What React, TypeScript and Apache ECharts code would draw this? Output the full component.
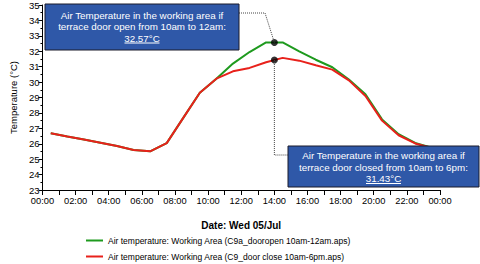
import React, { useEffect, useRef } from "react";
import * as echarts from "echarts";

const hours = [0.5, 1.5, 2.5, 3.5, 4.5, 5.5, 6.5, 7.5, 8.5, 9.5, 10.5, 11.5, 12.5, 13.5, 14.5, 15.5, 16.5, 17.5, 18.5, 19.5, 20.5, 21.5, 22.5, 23.5];
const doorOpen = [26.68, 26.47, 26.27, 26.07, 25.85, 25.6, 25.51, 26.04, 27.68, 29.31, 30.22, 31.2, 31.95, 32.57, 32.57, 31.99, 31.45, 30.96, 30.17, 29.21, 27.58, 26.62, 26.05, 25.75];
const doorClosed = [26.68, 26.47, 26.27, 26.07, 25.85, 25.6, 25.51, 26.04, 27.68, 29.31, 30.22, 30.7, 30.92, 31.29, 31.57, 31.39, 31.09, 30.81, 30.11, 29.1, 27.5, 26.55, 26.02, 25.72];
const seriesNames = [
  "Air temperature: Working Area (C9a_dooropen 10am-12am.aps)",
  "Air temperature: Working Area (C9_door close 10am-6pm.aps)",
];
const markerTime = 14;
const markerOpen = 32.57;
const markerClosed = 31.43;
const box1Lines = ["Air Temperature in the working area if", "terrace door open from 10am to 12am:", "32.57°C"];
const box2Lines = ["Air Temperature in the working area if", "terrace door closed from 10am to 6pm:", "31.43°C"];

const FONT = "Liberation Sans, Arial, sans-serif";
const GREEN = "#1e9a1e";
const RED = "#e8211b";
const BOX = "#2f58a8";

export default function App() {
  const ref = useRef<HTMLDivElement>(null);
  useEffect(() => {
    if (!ref.current) return;
    document.body.style.margin = "0";
    const chart = echarts.init(ref.current, null, { renderer: "svg" });
    chart.setOption({
      animation: false,
      textStyle: { fontFamily: FONT },
      grid: { left: 30, right: 40, top: 3, bottom: 74, containLabel: false },
      xAxis: {
        type: "value",
        min: 0,
        max: 24,
        interval: 2,
        name: "Date: Wed 05/Jul",
        nameLocation: "middle",
        nameGap: 30,
        nameTextStyle: { fontFamily: FONT, fontSize: 10, fontWeight: "bold", color: "#000" },
        axisLine: { lineStyle: { color: "#000", width: 1 } },
        axisTick: { length: 5, lineStyle: { color: "#000" } },
        minorTick: { show: true, splitNumber: 2, length: 5, lineStyle: { color: "#000" } },
        splitLine: { show: false },
        axisLabel: {
          color: "#000",
          fontSize: 9.3,
          fontFamily: FONT,
          margin: 6,
          formatter: (v: number) => {
            const h = v % 24;
            return (h < 10 ? "0" : "") + h + ":00";
          },
        },
      },
      yAxis: {
        type: "value",
        min: 23,
        max: 35,
        interval: 1,
        name: "Temperature (°C)",
        nameLocation: "middle",
        nameGap: 19,
        nameTextStyle: { fontFamily: FONT, fontSize: 9.5, color: "#000" },
        axisLine: { show: true, lineStyle: { color: "#000", width: 1 } },
        axisTick: { show: true, length: 4, lineStyle: { color: "#000" } },
        minorTick: { show: true, splitNumber: 2, length: 2, lineStyle: { color: "#000" } },
        splitLine: { show: false },
        axisLabel: { color: "#000", fontSize: 9.5, fontFamily: FONT, margin: 3 },
      },
      legend: {
        orient: "vertical",
        left: 86,
        top: 236,
        height: 28,
        padding: 0,
        itemGap: 7,
        itemWidth: 17,
        itemHeight: 2,
        icon: "rect",
        textStyle: { fontFamily: FONT, fontSize: 8.5, color: "#000" },
        data: seriesNames,
      },
      series: [
        {
          name: seriesNames[0],
          type: "line",
          data: hours.map((h, i) => [h, doorOpen[i]]),
          showSymbol: false,
          symbol: "none",
          lineStyle: { color: GREEN, width: 2 },
          itemStyle: { color: GREEN },
          z: 2,
        },
        {
          name: seriesNames[1],
          type: "line",
          data: hours.map((h, i) => [h, doorClosed[i]]),
          showSymbol: false,
          symbol: "none",
          lineStyle: { color: RED, width: 2 },
          itemStyle: { color: RED },
          z: 3,
        },
        {
          type: "scatter",
          data: [
            [markerTime, markerOpen],
            [markerTime, markerClosed],
          ],
          symbolSize: 7,
          itemStyle: { color: "#000" },
          z: 10,
          silent: true,
        },
      ],
    });

    const pOpen = chart.convertToPixel({ gridIndex: 0 }, [markerTime, markerOpen]) as number[];
    const pClosed = chart.convertToPixel({ gridIndex: 0 }, [markerTime, markerClosed]) as number[];

    const dotted = { stroke: "#444", lineWidth: 1, lineDash: [1, 1], fill: "none" };
    const box = (x: number, y: number, w: number, h: number, lines: string[], lineYs: number[], ulW: number) => {
      const cx = x + w / 2;
      const els: any[] = [
        { type: "rect", shape: { x, y, width: w, height: h }, style: { fill: BOX, stroke: "#1a1a2a", lineWidth: 1 }, z: 20 },
      ];
      lines.forEach((t, i) => {
        els.push({
          type: "text",
          x: cx,
          y: lineYs[i],
          style: { text: t, fill: "#fff", font: `9.8px ${FONT}`, align: "center", verticalAlign: "middle" },
          z: 21,
        });
      });
      const uy = lineYs[2] + 5;
      els.push({ type: "line", shape: { x1: cx - ulW / 2, y1: uy, x2: cx + ulW / 2, y2: uy }, style: { stroke: "#fff", lineWidth: 1 }, z: 21 });
      return els;
    };

    chart.setOption({
      graphic: [
        {
          type: "polyline",
          shape: { points: [[239, 13], [265, 13], [pOpen[0], pOpen[1]]] },
          style: dotted,
          z: 15,
        },
        {
          type: "polyline",
          shape: { points: [[pClosed[0], pClosed[1]], [pClosed[0], 155], [288, 155]] },
          style: dotted,
          z: 15,
        },
        ...box(45, 4, 194, 46, box1Lines, [15, 26.5, 38], 35),
        ...box(288, 146, 191, 41, box2Lines, [155.5, 167, 178.5], 35),
      ],
    });

    return () => chart.dispose();
  }, []);
  return <div ref={ref} style={{ width: 480, height: 264 }} />;
}
